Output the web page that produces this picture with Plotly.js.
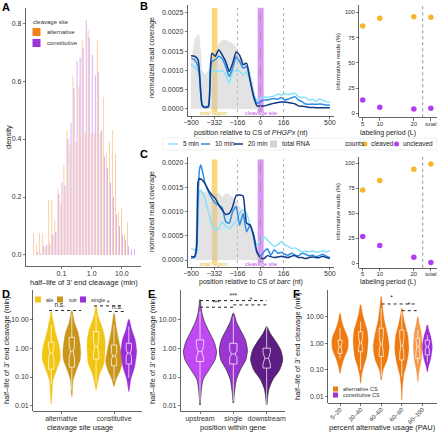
<!DOCTYPE html>
<html><head><meta charset="utf-8">
<script src="https://cdn.plot.ly/plotly-3.0.1.min.js"></script>
<style>body{margin:0;background:#fff}#p{width:440px;height:432px}</style>
</head><body><div id="p"></div>
<script>
const W=440,H=432;
const FONT='Liberation Sans, Arial, sans-serif';

// ---------- Panel A: histogram (log10 bin centres of half-life, min) ----------
const binLog10=[-1.9,-1.8,-1.7,-1.6,-1.5,-1.4,-1.3,-1.2,-1.1,-1.0,-0.9,-0.8,-0.7,-0.6,-0.5,-0.4,-0.3,-0.2,-0.1,0.0,0.1,0.2,0.3,0.4,0.5,0.6,0.7,0.8,0.9,1.0,1.1,1.2,1.3,1.4];
const densAlternative=[0.075,0.035,0.075,0.075,0.03,0.19,0.19,0.12,0.23,0.18,0.31,0.43,0.38,0.62,0.39,0.58,0.74,0.42,0.775,0.42,0.42,0.74,0.42,0.545,0.35,0.39,0.43,0.35,0.15,0.16,0.07,0.115,0,0];
const densConstitutive=[0.0,0.01,0.005,0.03,0.035,0.04,0.07,0.08,0.21,0.25,0.24,0.40,0.455,0.575,0.67,0.68,0.715,0.81,0.75,0.69,0.62,0.63,0.43,0.34,0.30,0.25,0.20,0.14,0.10,0.07,0.05,0.03,0.02,0.02];

// ---------- Panel B / C: coverage profiles ----------
const posB=[-500,-475,-450,-440,-430,-420,-400,-375,-360,-350,-325,-300,-275,-250,-225,-200,-175,-150,-125,-100,-75,-50,-25,0,25,50,75,100,125,150,175,200,225,250,275,300,325,350,375,400,425,450,475,500];
const B_5min=[0.00115,0.0011,0.00097,0.0008,0.00058,0.0001,0.00006,0.0001,0.0008,0.00097,0.001,0.00097,0.001,0.00089,0.00067,0.00097,0.001,0.00097,0.00089,0.00097,0.00071,0.00037,0.00023,0.00028,0.00032,0.0003,0.00032,0.00034,0.00038,0.00037,0.0004,0.00037,0.0004,0.0004,0.00032,0.0003,0.0003,0.00023,0.00025,0.00019,0.00026,0.00023,0.00019,0.00017];
const B_10min=[0.00132,0.00128,0.0011,0.0009,0.0004,0.00008,0.00004,0.00008,0.001,0.00123,0.00128,0.00137,0.0013,0.0011,0.00084,0.00106,0.00135,0.00123,0.00106,0.0011,0.00076,0.00037,0.00015,0.00019,0.00023,0.00023,0.00026,0.00027,0.00025,0.0003,0.00023,0.00026,0.00029,0.00032,0.00023,0.00019,0.00013,0.00012,0.00013,0.00012,0.00013,0.00012,0.0001,0.0001];
const B_20min=[0.00138,0.00137,0.00128,0.001,0.0004,0.0001,0.00004,0.00006,0.0011,0.00145,0.00137,0.00154,0.0014,0.00123,0.00097,0.00119,0.00148,0.0014,0.00115,0.00119,0.00076,0.00032,0.00008,0.00008,0.00008,0.0001,0.00013,0.00015,0.00017,0.00018,0.00018,0.00017,0.00015,0.00013,0.00008,0.00007,0.00006,0.00004,0.00004,0.00003,0.00003,0.00003,0.00003,0.00003];
const B_total=[0.0012,0.0018,0.00195,0.0019,0.0015,0.001,0.0009,0.001,0.0012,0.0013,0.0015,0.0017,0.0018,0.0018,0.00175,0.0017,0.0016,0.0014,0.0013,0.0012,0.001,0.0006,0.0001,0,0,0,0,0,0,0,0,0,0,0,0,0,0,0,0,0,0,0,0,0];

const posC=[-500,-475,-460,-450,-440,-430,-420,-400,-375,-350,-325,-300,-275,-250,-225,-200,-175,-150,-125,-100,-75,-50,-25,0,25,50,75,100,125,150,175,200,225,250,275,300,325,350,375,400,425,450,475,500];
const C_5min=[0.00024,0.00021,0.00014,0.00086,0.00141,0.00144,0.0014,0.00127,0.001,0.00072,0.00062,0.00065,0.00079,0.00069,0.00065,0.00072,0.00079,0.00096,0.00103,0.00096,0.00072,0.00052,0.00031,0.00041,0.00048,0.00041,0.00034,0.00028,0.00031,0.00038,0.00031,0.00028,0.00024,0.00025,0.00021,0.00017,0.00018,0.00017,0.00019,0.00016,0.00017,0.00019,0.00017,0.00019];
const C_10min=[0.00003,0.00005,0.0002,0.0012,0.00185,0.00196,0.00186,0.00158,0.00141,0.00127,0.00117,0.00113,0.00107,0.00079,0.00076,0.001,0.0011,0.00072,0.00096,0.00058,0.00072,0.00048,0.00014,0.00007,0.00017,0.00023,0.0001,0.00021,0.00014,0.00016,0.00012,0.0001,0.00014,0.0001,0.00009,0.00014,0.00012,0.00009,0.0001,0.00007,0.00009,0.00012,0.00008,0.00005];
const C_20min=[0.00007,0.00007,0.0003,0.0016,0.00168,0.00167,0.00165,0.00158,0.00144,0.00134,0.00127,0.00113,0.00103,0.00094,0.00096,0.0011,0.00133,0.00134,0.00132,0.00076,0.00072,0.00052,0.00017,0.00005,0.00003,0.00009,0.00007,0.00005,0.00006,0.00008,0.00006,0.00005,0.00008,0.00009,0.00005,0.00005,0.00003,0.00005,0.00006,0.00005,0.00005,0.00008,0.00005,0.00003];
const C_total=[0,0,0.0012,0.0014,0.00142,0.00142,0.0014,0.0014,0.00138,0.00135,0.00137,0.00138,0.0013,0.00138,0.00135,0.0013,0.0012,0.0011,0.001,0.0008,0.00065,0.00045,0.0002,0.00005,0,0,0,0,0,0,0,0,0,0,0,0,0,0,0,0,0,0,0,0];

// informative reads (%)
const periodX=[5,10,20,25];
const periodLabels=['5','10','20','total'];
const B_cleaved=[86.5,94,95.5,95];
const B_uncleaved=[13.2,6,4.3,5];
const C_cleaved=[73.3,82.7,94,99.3];
const C_uncleaved=[26.7,17.7,6,0.7];

// ---------- Panel D/E/F violins: log10 half-life levels and relative density ----------
const D_cats=['alternative','constitutive'];
const D_violins=[
 {pos:0.81,col:'#F2C512',lv:[-1.93,-1.5,-1.1,-0.75,-0.4,-0.12,0.23,0.53,0.87,1.1,1.27],dn:[0.3,1,2,5.5,9,9,7,4.5,2.5,1,0.3],box:[-1.27,-0.73,-0.17,0.21,0.81],notch:0.2},
 {pos:1.2,col:'#C9951A',lv:[-1.68,-1.4,-1.1,-0.73,-0.4,-0.12,0.23,0.53,0.87,1.1,1.3],dn:[0.3,0.8,1.5,5,8.5,9,8,6.5,3,1.5,0.3],box:[-1.45,-0.66,-0.12,0.38,1.19],notch:0.2},
 {pos:1.66,col:'#F2C512',lv:[-1.45,-1.21,-0.87,-0.52,-0.12,0.29,0.64,0.98,1.2,1.47],dn:[0.3,1.5,4,8,9,9,7,3.5,1.5,0.3],box:[-1.21,-0.38,0.06,0.58,1.16],notch:0.2},
 {pos:2.0,col:'#C9951A',lv:[-1.33,-1.1,-0.79,-0.47,-0.12,0.23,0.58,0.92,1.2],dn:[0.3,2,6,8.5,7,5,3,1.5,0.3],box:[-1.14,-0.61,-0.27,0.11,0.81],notch:0.12},
 {pos:2.28,col:'#9B30D8',lv:[-1.5,-1.1,-0.64,-0.3,-0.12,0.29,0.64,0.87,1.0],dn:[0.3,2,6,7.5,8,6.5,3,1.5,0.3],box:[-1.03,-0.55,-0.17,0.17,0.75],notch:0.12}
];
const E_cats=['upstream','single','downstream'];
const E_violins=[
 {pos:1,col:'#C048F2',lv:[-1.97,-1.56,-1.1,-0.75,-0.4,-0.12,0.23,0.58,0.92,1.21,1.5,1.68],dn:[0.3,1,3,9,15,16.5,14,9,4.5,2,0.8,0.3],box:[-1.91,-0.46,-0.12,0.29,1.27],notch:0.22},
 {pos:2,col:'#9A35D2',lv:[-1.9,-1.56,-1.1,-0.75,-0.4,-0.06,0.29,0.64,0.92,1.1,1.21],dn:[0.3,1,3,7,12.5,14,12,7,3,1.5,0.3],box:[-1.85,-0.55,-0.2,0.17,1.1],notch:0.12},
 {pos:3,col:'#5E1C85',lv:[-1.97,-1.45,-1.1,-0.75,-0.4,-0.06,0.29,0.52,0.7,0.75],dn:[0.3,2,6,13,16,14,8,3.5,1,0.3],box:[-1.97,-0.69,-0.35,0.0,0.75],notch:0.2}
];
const F_cats=['5–20','20–40','40–60','60–80','80–100'];
const F_violins=[
 {pos:1,col:'#EE7A12',lv:[-1.13,-0.88,-0.57,-0.25,0,0.25,0.57,0.88,1.13],dn:[0.3,1.5,4,7.5,8.3,7.5,4,1.5,0.3],box:[-0.57,-0.38,-0.13,0.12,0.57],notch:0.15},
 {pos:2,col:'#EE7A12',lv:[-1.51,-1.2,-0.88,-0.5,0.12,0.5,0.88,1.19,1.45],dn:[0.3,1,3,6,7.5,6.5,3.5,1.5,0.3],box:[-1.0,-0.32,0.02,0.44,0.82],notch:0.22},
 {pos:3,col:'#EE7A12',lv:[-1.38,-1.0,-0.63,-0.13,0.38,0.88,1.32,1.6,1.76],dn:[0.3,2,6,8,6,3,1.5,0.7,0.3],box:[-1.26,-0.5,-0.03,0.57,1.32],notch:0.3},
 {pos:4,col:'#EE7A12',lv:[-2.14,-1.64,-1.2,-0.75,-0.25,0.31,0.75,1.13,1.32],dn:[0.2,0.7,2,5,7,6,3,1,0.3],box:[-1.26,-0.63,-0.09,0.5,1.19],notch:0.3},
 {pos:4.78,col:'#F39A4A',lv:[-1.45,-1.13,-0.63,-0.13,0.38,0.75,1.0],dn:[0.3,1,3.5,4.5,3.5,1.5,0.3],box:[-0.75,-0.57,-0.13,0.19,0.5],notch:0.25},
 {pos:5.24,col:'#9B30D8',lv:[-1.07,-0.88,-0.57,-0.13,0.25,0.5,0.69],dn:[0.3,1.2,3.5,5,3.5,1.5,0.3],box:[-0.7,-0.44,-0.13,0.12,0.31],notch:0.12}
];
// significance brackets (half-life in min)
const D_brk={x0:[0.77,1.62,1.9],x1:[1.375,2.19,2.19],y:[20.3,29.4,18.7],lx:[0.97,1.89,2.06],ly:[29.5,36,25.5],lab:['n.s.','*','n.s.']};
const E_brk={x0:[1,1,2],x1:[3,2,3],y:[45,26.5,31.8],lx:[2,1.48,2.53],ly:[62,36,44],lab:['***','***','*']};
const F_brk={x0:[3.02,4.0],x1:[4.72,4.72],y:[30.4,17],lx:[3.5,4.35],ly:[48,26.5],lab:['*','*']};

// ---------- builders ----------
const traces=[];
traces.push({type:'bar',x:binLog10,y:densAlternative,marker:{color:'rgba(242,130,25,0.5)'},xaxis:'x',yaxis:'y',name:'alternative',showlegend:false,hoverinfo:'skip'});
traces.push({type:'bar',x:binLog10,y:densConstitutive,marker:{color:'rgba(155,45,220,0.5)'},xaxis:'x',yaxis:'y',name:'constitutive',showlegend:false,hoverinfo:'skip'});

const lineCols={m5:'#86E2FB',m10:'#2E8DE6',m20:'#0D3A86'};
function covTraces(pos,tot,a5,a10,a20,xa,ya){
  traces.push({type:'scatter',mode:'lines',x:pos,y:tot,fill:'tozeroy',fillcolor:'rgba(200,200,200,0.5)',line:{width:0},xaxis:xa,yaxis:ya,showlegend:false,hoverinfo:'skip'});
  [[a5,lineCols.m5],[a10,lineCols.m10],[a20,lineCols.m20]].forEach(([a,c])=>{
    traces.push({type:'scatter',mode:'lines',x:pos,y:a,line:{color:c,width:1.5,shape:'spline',smoothing:0.5},xaxis:xa,yaxis:ya,showlegend:false,hoverinfo:'skip'});
  });
}
covTraces(posB,B_total,B_5min,B_10min,B_20min,'x2','y2');
covTraces(posC,C_total,C_5min,C_10min,C_20min,'x4','y4');
function countTraces(cl,un,xa,ya){
  traces.push({type:'scatter',mode:'markers',x:periodX,y:cl,marker:{color:'#F6B52A',size:5.5},xaxis:xa,yaxis:ya,showlegend:false,hoverinfo:'skip'});
  traces.push({type:'scatter',mode:'markers',x:periodX,y:un,marker:{color:'#B33DF0',size:5.5},xaxis:xa,yaxis:ya,showlegend:false,hoverinfo:'skip'});
}
countTraces(B_cleaved,B_uncleaved,'x3','y3');
countTraces(C_cleaved,C_uncleaved,'x5','y5');

const p10=v=>Math.pow(10,v);
function violins(list,scale,boxW,outline,xa,ya){
  list.forEach(v=>{
    const xs=[],ys=[];
    for(let i=0;i<v.lv.length;i++){xs.push(v.pos-v.dn[i]*scale);ys.push(p10(v.lv[i]));}
    for(let i=v.lv.length-1;i>=0;i--){xs.push(v.pos+v.dn[i]*scale);ys.push(p10(v.lv[i]));}
    traces.push({type:'scatter',mode:'lines',x:xs,y:ys,fill:'toself',fillcolor:v.col,line:{color:outline||v.col,width:outline?0.7:0.3,shape:'spline',smoothing:0.7},xaxis:xa,yaxis:ya,showlegend:false,hoverinfo:'skip'});
    const s=v.box,w=boxW,x=v.pos,nl=s[2]-v.notch,nh=s[2]+v.notch;
    const bx=[x-w,x-w,x-w/2,x-w,x-w,x+w,x+w,x+w/2,x+w,x+w,x-w];
    const by=[s[1],nl,s[2],nh,s[3],s[3],nh,s[2],nl,s[1],s[1]].map(p10);
    traces.push({type:'scatter',mode:'lines',x:bx,y:by,line:{color:'rgba(255,255,255,0.9)',width:0.8},xaxis:xa,yaxis:ya,showlegend:false,hoverinfo:'skip'});
    traces.push({type:'scatter',mode:'lines',x:[x,x,null,x,x,null,x-w/2,x+w/2],y:[p10(s[0]),p10(s[1]),null,p10(s[3]),p10(s[4]),null,p10(s[2]),p10(s[2])],line:{color:'rgba(255,255,255,0.9)',width:0.8},xaxis:xa,yaxis:ya,showlegend:false,hoverinfo:'skip'});
  });
}
violins(D_violins,1/53.3,0.05,null,'x6','y6');
violins(E_violins,1/33.3,0.11,'#2a2a2a','x7','y7');
violins(F_violins,1/20.6,0.1,null,'x8','y8');
function brackets(b,xa,ya){
  const xs=[],ys=[];
  b.x0.forEach((v,i)=>{xs.push(v,b.x1[i],null);ys.push(b.y[i],b.y[i],null);});
  traces.push({type:'scatter',mode:'lines',x:xs,y:ys,line:{color:'#222',width:1,dash:'dot'},xaxis:xa,yaxis:ya,showlegend:false,hoverinfo:'skip'});
  traces.push({type:'scatter',mode:'text',x:b.lx,y:b.ly,text:b.lab,textfont:{size:6.5,color:'#222',family:FONT},xaxis:xa,yaxis:ya,showlegend:false,hoverinfo:'skip'});
}
brackets(D_brk,'x6','y6');brackets(E_brk,'x7','y7');brackets(F_brk,'x8','y8');

// ---------- layout ----------
const dx=(a,b)=>[a/W,b/W], dy=(top,bot)=>[1-bot/H,1-top/H];
const base={showgrid:false,zeroline:false,showline:true,linecolor:'#222',linewidth:0.7,ticks:'outside',ticklen:2.5,tickwidth:0.6,tickcolor:'#222',tickfont:{size:7,color:'#333',family:FONT},fixedrange:true};
const ax=o=>Object.assign({},base,o);
const xo=o=>Object.assign({},base,{ticklabelstandoff:-2},o);
const covTicks=[0,0.0005,0.001,0.0015,0.002,0.0025], covText=['0.0000','0.0005','0.0010','0.0015','0.0020','0.0025'];
const logTicks=[0.01,0.1,1,10], logText=['0.01','0.10','1.00','10.00'];
const small={size:6,color:'#333',family:FONT};
const layout={
 width:W,height:H,margin:{l:0,r:0,t:0,b:0},paper_bgcolor:'#fff',plot_bgcolor:'rgba(0,0,0,0)',
 showlegend:false,barmode:'group',bargap:0.3,bargroupgap:0.3,font:{family:FONT,color:'#222'},
 xaxis:xo({domain:dx(26,141),range:[-2.17,1.63],tickvals:[-1,0,1],ticktext:['0.1','1.0','10.0'],anchor:'y'}),
 yaxis:ax({domain:dy(8,266),range:[-0.038,0.852],tickvals:[0,0.2,0.4,0.6,0.8],ticktext:['0.0','0.2','0.4','0.6','0.8'],anchor:'x'}),
 xaxis2:xo({domain:dx(188,334),range:[-522,530],tickvals:[-500,-332,-166,0,166,500],anchor:'y2'}),
 yaxis2:ax({domain:dy(5,115.7),range:[-0.000175,0.0027],tickvals:covTicks,ticktext:covText,anchor:'x2'}),
 xaxis3:xo({domain:dx(359.3,437),range:[4.0,26.8],tickvals:periodX,ticktext:periodLabels,anchor:'y3',tickfont:small}),
 yaxis3:ax({domain:dy(5,117.3),range:[-3.96,107.2],tickvals:[0,25,50,75,100],anchor:'x3',tickfont:small}),
 xaxis4:xo({domain:dx(188,334),range:[-522,530],tickvals:[-500,-332,-166,0,166,500],anchor:'y4'}),
 yaxis4:ax({domain:dy(156.7,266.7),range:[-0.000138,0.00213],tickvals:covTicks.slice(0,5),ticktext:covText.slice(0,5),anchor:'x4'}),
 xaxis5:xo({domain:dx(359.3,437),range:[4.0,26.8],tickvals:periodX,ticktext:periodLabels,anchor:'y5',tickfont:small}),
 yaxis5:ax({domain:dy(157,267.7),range:[-4.4,106.3],tickvals:[0,25,50,75,100],anchor:'x5',tickfont:small}),
 xaxis6:xo({domain:dx(33.3,142),range:[0.47,2.53],tickvals:[1,2],ticktext:D_cats,anchor:'y6'}),
 yaxis6:ax({type:'log',domain:dy(290,411),range:[-2.18,2.02],tickvals:logTicks,ticktext:logText,anchor:'x6'}),
 xaxis7:xo({domain:dx(181,285),range:[0.43,3.55],tickvals:[1,2,3],ticktext:E_cats,anchor:'y7'}),
 yaxis7:ax({type:'log',domain:dy(290,411),range:[-2.18,2.02],tickvals:logTicks,ticktext:logText,anchor:'x7'}),
 xaxis8:xo({domain:dx(328.3,437),range:[0.43,5.71],tickvals:[1,2,3,4,5],ticktext:F_cats,tickangle:-45,anchor:'y8',tickfont:small}),
 yaxis8:ax({type:'log',domain:dy(290,402.7),range:[-2.24,2.01],tickvals:logTicks,ticktext:logText,anchor:'x8'}),
 shapes:[],annotations:[]
};
const S=layout.shapes, A=layout.annotations;
function ann(text,px,py,o){A.push(Object.assign({text:text,x:px/W,y:1-py/H,xref:'paper',yref:'paper',showarrow:false,xanchor:'center',yanchor:'middle',font:{size:7.5,color:'#222',family:FONT}},o||{}));}
function rectP(x0,y0,x1,y1,fill,line){S.push({type:'rect',xref:'paper',yref:'paper',x0:x0/W,x1:x1/W,y0:1-y1/H,y1:1-y0/H,fillcolor:fill,line:line||{width:0}});}
function lineP(x0,y0,x1,y1,col,w){S.push({type:'line',xref:'paper',yref:'paper',x0:x0/W,x1:x1/W,y0:1-y0/H,y1:1-y1/H,line:{color:col,width:w}});}

// B/C decorations
[['x2','y2'],['x4','y4']].forEach(([xa,ya])=>{
  S.push({type:'rect',xref:xa,yref:ya+' domain',x0:-350,x1:-310,y0:0.033,y1:0.975,fillcolor:'rgba(250,205,95,0.8)',line:{width:0},layer:'below'});
  S.push({type:'rect',xref:xa,yref:ya+' domain',x0:-20,x1:23,y0:0.033,y1:0.975,fillcolor:'rgba(210,125,242,0.8)',line:{width:0},layer:'below'});
  [-166,166].forEach(v=>S.push({type:'line',xref:xa,yref:ya+' domain',x0:v,x1:v,y0:0.033,y1:0.975,line:{color:'#9a9a9a',width:0.8,dash:'dot'},layer:'below'}));
  S.push({type:'line',xref:xa,yref:ya+' domain',x0:0,x1:0,y0:0.033,y1:0.975,line:{color:'#8FA58F',width:0.9,dash:'dash'},layer:'above'});
  A.push({text:'total region',x:-338,y:0,xref:xa,yref:ya,yshift:-4,showarrow:false,font:{size:5.5,color:'#E8B425',family:FONT}});
  A.push({text:'cleavage site',x:4,y:0,xref:xa,yref:ya,yshift:-4,showarrow:false,font:{size:5.5,color:'#C150E6',family:FONT}});
});
['x3','x5'].forEach((xa,i)=>S.push({type:'line',xref:xa,yref:(i?'y5':'y3')+' domain',x0:22.6,x1:22.6,y0:0,y1:1,line:{color:'#777',width:0.8,dash:'dot'}}));

// panel letters
const L={size:11,color:'#000',family:FONT};
ann('<b>A</b>',6,7,{font:L});ann('<b>B</b>',144,6,{font:L});ann('<b>C</b>',144,154,{font:L});
ann('<b>D</b>',6,294,{font:L});ann('<b>E</b>',151,294,{font:L});ann('<b>F</b>',296,294,{font:L});

// axis titles
const t7={size:7,color:'#222',family:FONT};
ann("half\u2013life of 3' end cleavage (min)",84,282);
ann('density',8,137,{textangle:-90});
ann('position relative to CS of <i>PHGPx</i> (nt)',251,132.5,{font:t7});
ann('normalized read coverage',152,58,{textangle:-90,font:t7});
ann('labeling period (L)',388,132.5,{font:t7});
ann('informative reads (%)',338,62,{textangle:-90,font:{size:6,color:'#222',family:FONT}});
ann('position relative to CS of <i>barc</i> (nt)',251,282,{font:t7});
ann('normalized read coverage',152,212,{textangle:-90,font:t7});
ann('labeling period (L)',388,282,{font:t7});
ann('informative reads (%)',338,212,{textangle:-90,font:{size:6,color:'#222',family:FONT}});
ann("half\u2013life of 3' end cleavage (min)",6,350,{textangle:-90});
ann('cleavage site usage',80,427);
ann("half\u2013life of 3' end cleavage (min)",152,350,{textangle:-90});
ann('position within gene',233,427);
ann("half\u2013life of 3' end cleavage (min)",297,346,{textangle:-90});
ann('percent alternative usage (PAU)',382,427);

// legend A
const lg6={size:6,color:'#333',family:FONT};
ann('cleavage site',31,22,{xanchor:'left',font:lg6});
rectP(32.5,28,40.5,36,'#F0821E');rectP(32.5,39,40.5,47,'#9B35D6');
ann('alternative',45,32,{xanchor:'left',font:lg6});
ann('constitutive',45,43,{xanchor:'left',font:lg6});
// legend B/C
rectP(163,138,437,150,'rgba(0,0,0,0)',{color:'#e6e6e6',width:0.6});
const lf={size:6.5,color:'#222',family:FONT};
lineP(168,144,178,144,lineCols.m5,1.5);ann('5 min',181,144,{xanchor:'left',font:lf});
lineP(201,144,210,144,lineCols.m10,1.5);ann('10 min',213,144,{xanchor:'left',font:lf});
lineP(234,144,243,144,lineCols.m20,1.5);ann('20 min',246,144,{xanchor:'left',font:lf});
rectP(270,140.5,277,147.5,'rgba(200,200,200,0.8)');ann('total RNA',280,144,{xanchor:'left',font:lf});
ann('counts',343,144,{xanchor:'left',font:lf});
S.push({type:'circle',xref:'paper',yref:'paper',x0:362.5/W,x1:367.5/W,y0:1-146.5/H,y1:1-141.5/H,fillcolor:'#F6B52A',line:{width:0}});
ann('cleaved',369,144,{xanchor:'left',font:lf});
S.push({type:'circle',xref:'paper',yref:'paper',x0:394/W,x1:399/W,y0:1-146.5/H,y1:1-141.5/H,fillcolor:'#B33DF0',line:{width:0}});
ann('uncleaved',401,144,{xanchor:'left',font:lf});
// legend D
const lg5={size:5.5,color:'#333',family:FONT};
rectP(35,296.5,41,302.5,'#F2C512');ann('ale',44,299.5,{xanchor:'left',font:lg5});
rectP(57,296.5,63,302.5,'#C9951A');ann('tutr',66.5,299.5,{xanchor:'left',font:lg5});
rectP(80,296.5,86,302.5,'#9B30D8');ann('single',88.5,299.5,{xanchor:'left',font:lg5});
// legend F
rectP(333,386.5,338,391.5,'#EE7A12');ann('alternative CS',341,389,{xanchor:'left',font:{size:5.5,color:'#333',family:FONT}});
rectP(333,392.5,338,397.5,'#9B30D8');ann('constitutive CS',341,395,{xanchor:'left',font:{size:5.5,color:'#333',family:FONT}});

Plotly.newPlot('p',traces,layout,{staticPlot:true,displayModeBar:false});
</script></body></html>
